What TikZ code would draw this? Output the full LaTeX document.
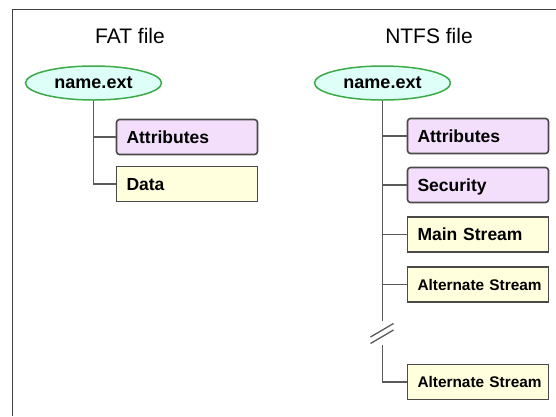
\documentclass[tikz,border=0pt]{standalone}
\usepackage{fontspec}
\setmainfont{Liberation Sans}
\usetikzlibrary{shapes.geometric}

\definecolor{framegray}{HTML}{404040}
\definecolor{linkgray}{HTML}{5A5A5A}
\definecolor{boxedge}{HTML}{4A4A4A}
\definecolor{lilac}{HTML}{F3DEFB}
\definecolor{cream}{HTML}{FFFFDD}
\definecolor{mint}{HTML}{DDFFF7}
\definecolor{leaf}{HTML}{3DAA4A}

\begin{document}
\begin{tikzpicture}[x=1pt, y=-1pt,
  title/.style={font=\fontsize{21}{24}\selectfont, anchor=base, inner sep=0pt},
  fileoval/.style={ellipse, draw=leaf, line width=1.5pt, fill=mint,
    minimum width=136pt, minimum height=34pt, inner sep=0pt,
    font=\bfseries\fontsize{18}{20}\selectfont},
  itembox/.style={draw=boxedge, line width=1.6pt, minimum height=35pt,
    text width=121pt, inner xsep=10pt, align=left,
    text height=12.5pt, text depth=0pt,
    font=\bfseries\fontsize{17.5}{20}\selectfont},
  metabox/.style={itembox, fill=lilac, rounded corners=3pt},
  databox/.style={itembox, fill=cream},
  streambox/.style={databox, font=\bfseries\fontsize{15.4}{18}\selectfont, text height=11pt},
  link/.style={draw=linkgray, line width=1.8pt},
  breakmark/.style={draw=linkgray, line width=1.3pt}]

\useasboundingbox (0,0) rectangle (556,416);

% outer frame (top and left edges)
\draw[framegray, line width=1.8pt] (556,9.5) -- (12.5,9.5) -- (12.5,416);

% ---- FAT file ----
\node[title] (fatT) at (130,43.3) {FAT file};
\node[fileoval] (fatF) at (93.5,83) {name.ext};
\node[metabox] (fatA) at (187,137) {Attributes};
\node[databox] (fatD) at (187,184) {Data};
\draw[link] (fatF.south) |- (fatD.west);
\draw[link] (fatF.south |- fatA.west) -- (fatA.west);

% ---- NTFS file ----
\node[title] (ntT) at (429,43.3) {NTFS file};
\node[fileoval] (ntF) at (382.5,83) {name.ext};
\node[metabox] (ntA) at (478,136) {Attributes};
\node[metabox] (ntS) at (478,185) {Security};
\node[databox] (ntM) at (478,234.5) {Main Stream};
\node[streambox] (ntX1) at (478,284.5) {\mbox{Alternate Stream}};
\node[streambox] (ntX2) at (478,382) {\mbox{Alternate Stream}};

\coordinate (ntBreakTop) at (382.5,321);
\coordinate (ntBreakBot) at (382.5,345);
\draw[link] (ntF.south) -- (ntBreakTop);
\draw[link] (ntBreakBot) |- (ntX2.west);
\foreach \n in {ntA,ntS,ntM,ntX1}
  \draw[link] (ntF.south |- \n.west) -- (\n.west);

% break marks on the trunk
\coordinate (ntBreakA1) at (370.5,337);
\coordinate (ntBreakA2) at (393.5,323.5);
\coordinate (ntBreakB1) at (370.5,343.5);
\coordinate (ntBreakB2) at (393.5,330);
\draw[breakmark] (ntBreakA1) -- (ntBreakA2);
\draw[breakmark] (ntBreakB1) -- (ntBreakB2);

\end{tikzpicture}
\end{document}
